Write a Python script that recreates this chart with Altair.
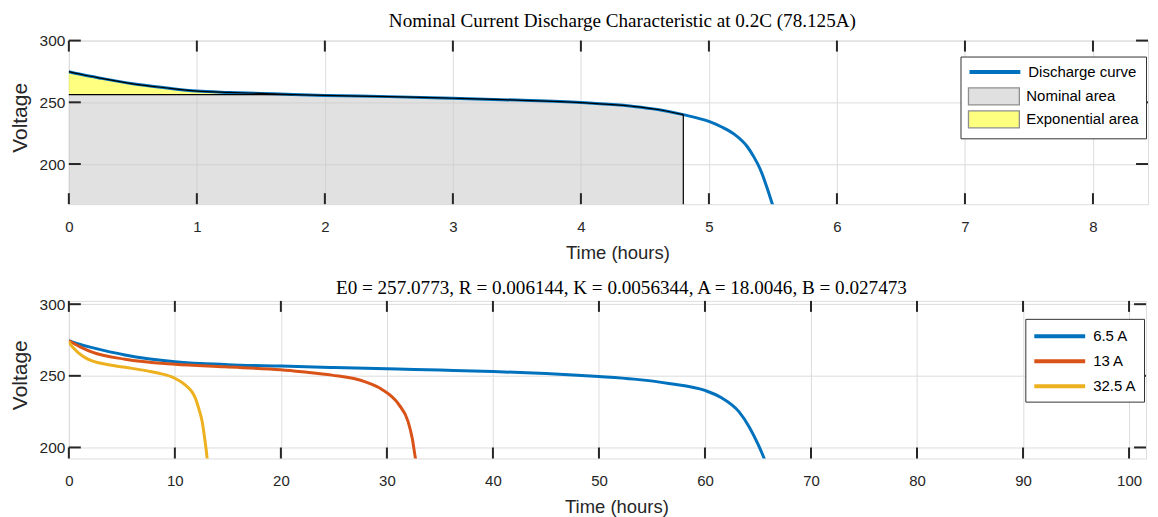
import altair as alt
import pandas as pd

# ---------------- data ----------------
title_top = "Nominal Current Discharge Characteristic at 0.2C (78.125A)"
title_bottom = "E0 = 257.0773, R = 0.006144, K = 0.0056344, A = 18.0046, B = 0.027473"

# top panel: nominal discharge curve (hours, volts)
top_hours = [0, 0.1, 0.25, 0.5, 0.75, 1.0, 1.25, 1.5, 1.75, 2.0, 2.5, 3.0, 3.5, 4.0, 4.4, 4.6, 4.8,
             5.0, 5.1, 5.2, 5.3, 5.35, 5.4, 5.45, 5.5]
top_volts = [274.8, 272.5, 269.5, 265, 261.8, 259.1, 258, 257.2, 256.3, 255.6, 254.6, 253.3, 251.8,
             249.8, 246.8, 244.2, 240, 234.5, 230, 224, 214, 206, 196, 182, 166]
nominal_end = 4.8
exp_end = 1.75
exp_voltage = 256.3
line_series = ["Discharge curve"]
area_series = ["Nominal area", "Exponential area"]

top_xticks = [0, 1, 2, 3, 4, 5, 6, 7, 8]
top_yticks = [200, 250, 300]
top_xdomain = [0, 8.43]
top_ydomain = [167.5, 300]

# bottom panel: discharge at different currents
cur_labels = ["6.5 A", "13 A", "32.5 A"]
h_65 = [0, 1, 2.2, 5.3, 10, 15, 20, 25, 31, 35, 40, 45, 50, 53.3, 56.6, 60, 61.6, 63.2, 64.2, 65.0, 65.6, 65.8]
v_65 = [274.5, 272, 269.7, 264.6, 259.9, 257.8, 256.8, 255.8, 254.7, 254.0, 253.0, 251.6, 249.5,
        247.7, 244.7, 239.8, 234.5, 225, 214, 202.3, 192, 188]
h_13 = [0, 1.26, 2.2, 5.3, 10, 14.7, 20, 22, 24.8, 27.9, 29.5, 31.1, 32.0, 32.4, 32.7, 32.8]
v_13 = [274.5, 269.5, 266.5, 261.6, 258.1, 256.3, 254.2, 252.8, 250.5, 246, 240.7, 230.2, 218, 206, 192, 188]
h_325 = [0, 0.3, 0.63, 0.94, 1.57, 2.2, 3.76, 5.97, 7.5, 8.5, 10.0, 11, 11.6, 11.9, 12.3, 12.56,
         12.8, 13.05, 13.1]
v_325 = [274, 270.5, 268, 265.8, 262.5, 260.4, 257.7, 255.2, 253.3, 251.8, 248.3, 243.5, 239, 235, 226,
         218.6, 207, 192, 188]

bot_xticks = [0, 10, 20, 30, 40, 50, 60, 70, 80, 90, 100]
bot_yticks = [200, 250, 300]
bot_xdomain = [0, 101.6]
bot_ydomain = [192.3, 302.3]

# ---------------- style ----------------
SANS = "Liberation Sans"
SERIF = "Liberation Serif"
DARK = "#262626"
GRID = "#dcdcdc"
W1, H1 = 1082, 164
W2, H2 = 1080, 158
INTERP = "monotone"

# ---------------- tables ----------------
curve_df = pd.DataFrame({"hours": top_hours, "volts": top_volts, "series": line_series[0]})
nom_rows = [(h, min(v, exp_voltage), top_ydomain[0]) for h, v in zip(top_hours, top_volts) if h <= nominal_end]
nom_df = pd.DataFrame(nom_rows, columns=["hours", "volts", "vbase"])
nom_df["series"] = area_series[0]
exp_rows = [(h, max(v, exp_voltage), exp_voltage) for h, v in zip(top_hours, top_volts) if h <= exp_end]
exp_df = pd.DataFrame(exp_rows, columns=["hours", "volts", "vbase"])
exp_df["series"] = area_series[1]
outline_rows = [("curve", i, h, v) for i, (h, v) in enumerate(zip(top_hours, top_volts)) if h <= nominal_end]
outline_rows += [("flat", 0, 0, exp_voltage), ("flat", 1, exp_end, exp_voltage)]
outline_df = pd.DataFrame(outline_rows, columns=["seg", "order", "hours", "volts"])
vend = top_volts[top_hours.index(nominal_end)]
vline_df = pd.DataFrame({"hours": [nominal_end], "volts": [vend], "vbase": [top_ydomain[0]]})

bot_df = pd.concat([
    pd.DataFrame({"hours": h_65, "volts": v_65, "current": cur_labels[0]}),
    pd.DataFrame({"hours": h_13, "volts": v_13, "current": cur_labels[1]}),
    pd.DataFrame({"hours": h_325, "volts": v_325, "current": cur_labels[2]}),
], ignore_index=True)


def x_enc(domain, ticks, W):
    return alt.X("hours:Q", scale=alt.Scale(domain=domain, nice=False, zero=False),
                 axis=alt.Axis(values=ticks, title="Time (hours)", format="d", grid=True, gridColor=GRID,
                               gridWidth=1, ticks=False, domain=False, labelFont=SANS, labelFontSize=15,
                               labelColor=DARK, labelPadding=15, labelFlush=False, labelOverlap=False,
                               titleFont=SANS, titleFontSize=18.5, titleFontWeight="normal",
                               titleColor=DARK, titlePadding=9, titleX=W / 2 + 9))


def y_enc(domain, ticks, H):
    return alt.Y("volts:Q", scale=alt.Scale(domain=domain, nice=False, zero=False),
                 axis=alt.Axis(values=ticks, title="Voltage", format="d", grid=True, gridColor=GRID,
                               gridWidth=1, ticks=False, domain=False, labelFont=SANS, labelFontSize=15.5,
                               labelColor=DARK, labelPadding=4, labelFlush=False, labelOverlap=False,
                               titleFont=SANS, titleFontSize=21, titleFontWeight="normal",
                               titleColor=DARK, titlePadding=9, titleY=H / 2 - 5))


def tick_layers(xt, yt, xd, yd, W, H):
    xdf = pd.DataFrame({"hours": xt})
    ydf = pd.DataFrame({"volts": yt})
    X = x_enc(xd, xt, W)
    Y = y_enc(yd, yt, H)
    r = dict(color=DARK, strokeWidth=2)
    return [
        alt.Chart(xdf).mark_rule(**r).encode(x=X, y=alt.value(0), y2=alt.value(11)),
        alt.Chart(xdf).mark_rule(**r).encode(x=X, y=alt.value(H - 11), y2=alt.value(H)),
        alt.Chart(ydf).mark_rule(**r).encode(y=Y, x=alt.value(0), x2=alt.value(12)),
        alt.Chart(ydf).mark_rule(**r).encode(y=Y, x=alt.value(W - 12), x2=alt.value(W)),
    ]


legend_common = dict(orient="none", labelFont=SANS, labelFontSize=15, labelColor="black",
                     labelOffset=40, symbolSize=289, padding=7)

# ---------------- top panel ----------------
X1 = x_enc(top_xdomain, top_xticks, W1)
Y1 = y_enc(top_ydomain, top_yticks, H1)

legend_area = alt.Legend(
    title=" ", titleFontSize=17, titlePadding=6.5, legendX=894, legendY=16,
    fillColor="white", strokeColor="#333333",
    symbolType="M-1,-1H5V1H-1Z", symbolStrokeColor="#333333", symbolStrokeWidth=1.3,
    rowPadding=0, zindex=1, **legend_common,
)
legend_line = alt.Legend(
    title=None, legendX=894, legendY=14, symbolType="M-1,0H5", symbolStrokeWidth=4,
    zindex=2, **legend_common,
)
fill_top = alt.Fill("series:N", scale=alt.Scale(domain=area_series, range=["#c8c8c8", "#ffff16"]),
                    legend=legend_area)
stroke_top = alt.Stroke("series:N", scale=alt.Scale(domain=line_series, range=["#0072BD"]),
                        legend=legend_line)

nom_layer = alt.Chart(nom_df).mark_area(opacity=0.545, interpolate=INTERP).encode(
    x=X1, y=Y1, y2="vbase:Q", fill=fill_top)
exp_layer = alt.Chart(exp_df).mark_area(opacity=0.545, interpolate=INTERP).encode(
    x=X1, y=Y1, y2="vbase:Q", fill=fill_top)
curve_layer = alt.Chart(curve_df).mark_line(strokeWidth=3, clip=True, interpolate=INTERP).encode(
    x=X1, y=Y1, stroke=stroke_top)
outline_layer = alt.Chart(outline_df).mark_line(color="black", strokeWidth=1.2, interpolate=INTERP).encode(
    x=X1, y=Y1, detail="seg:N", order="order:Q")
vline_layer = alt.Chart(vline_df).mark_rule(color="black", strokeWidth=1.2).encode(x=X1, y=Y1, y2="vbase:Q")

top = alt.layer(
    nom_layer, exp_layer, curve_layer, outline_layer, vline_layer,
    *tick_layers(top_xticks, top_yticks, top_xdomain, top_ydomain, W1, H1)
).properties(
    width=W1, height=H1,
    title=alt.TitleParams(title_top, font=SERIF, fontSize=19.2, fontWeight="normal", color="black",
                          offset=2, anchor="middle", dx=14),
)

# ---------------- bottom panel ----------------
X2 = x_enc(bot_xdomain, bot_xticks, W2)
Y2 = y_enc(bot_ydomain, bot_yticks, H2)
legend_bot = alt.Legend(
    title=None, legendX=959, legendY=18,
    fillColor="white", strokeColor="#333333",
    symbolType="M-1,0H5", symbolStrokeWidth=4, rowPadding=6, **legend_common,
)
color_bot = alt.Color("current:N", scale=alt.Scale(domain=cur_labels, range=["#0072BD", "#D95319", "#EDB120"]),
                      legend=legend_bot, sort=cur_labels)
bot_lines = alt.Chart(bot_df).mark_line(strokeWidth=3, clip=True, interpolate=INTERP).encode(
    x=X2, y=Y2, color=color_bot, detail="current:N")

bottom = alt.layer(
    bot_lines,
    *tick_layers(bot_xticks, bot_yticks, bot_xdomain, bot_ydomain, W2, H2)
).properties(
    width=W2, height=H2,
    title=alt.TitleParams(title_bottom, font=SERIF, fontSize=19.2, fontWeight="normal", color="black",
                          offset=-1, anchor="middle", dx=14),
)

chart = alt.vconcat(top, bottom, spacing=16).resolve_scale(
    color="independent", fill="independent", stroke="independent", x="independent", y="independent"
).properties(
    padding={"left": 0, "top": 3, "right": 0, "bottom": 0}
).configure_view(
    stroke=DARK, strokeWidth=2
).configure(background="white")

chart.save("out.html", embed_options={"renderer": "svg", "actions": False})
